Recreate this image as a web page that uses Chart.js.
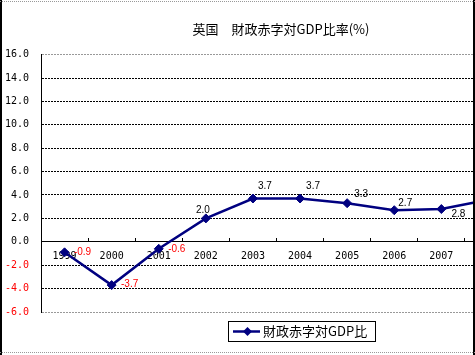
<!DOCTYPE html>
<html>
<head>
<meta charset="utf-8">
<script src="https://cdn.jsdelivr.net/npm/chart.js@4/dist/chart.umd.min.js"></script>
<style>
  html, body { margin: 0; padding: 0; background: #fff; }
  #wrap { position: relative; width: 475px; height: 355px; overflow: hidden; background: #fff; }
  #c { position: absolute; left: 0; top: 0; }
  .fr { position: absolute; pointer-events: none; }
</style>
</head>
<body>
<div id="wrap">
  <canvas id="c" width="562" height="355" style="width:562px;height:355px"></canvas>
  <div class="fr" style="left:0;top:0;width:2px;height:355px;background:#000"></div>
  <div class="fr" style="left:473px;top:0;width:2px;height:355px;background:#000"></div>
  <div class="fr" style="left:0;top:1px;width:475px;height:0;border-top:1px dotted #999"></div>
  <div class="fr" style="left:0;top:352px;width:475px;height:0;border-top:1px dotted #999"></div>
</div>
<script>
// ---- data ----
const categories = ['1999', '2000', '2001', '2002', '2003', '2004', '2005', '2006', '2007', '2008'];
const deficitRatio = [-0.9, -3.7, -0.6, 2.0, 3.7, 3.7, 3.3, 2.7, 2.8, 3.6];
const seriesName = '財政赤字対GDP比';
const chartTitle = '英国　財政赤字対GDP比率(%)';
const yMin = -6, yMax = 16, yStep = 2;

// label placement (offset of label centre from point, px)
const labelOffsets = [[18, 0], [18, -1], [18, 0], [-3, -8], [12, -12], [13, -12], [14, -9], [11, -7], [17, 5], [14, -9]];

const LINE_COLOR = '#000080';

const dataLabelPlugin = {
  id: 'dataLabels',
  afterDatasetsDraw(chart) {
    const ctx = chart.ctx;
    const meta = chart.getDatasetMeta(0);
    const vals = chart.data.datasets[0].data;
    ctx.save();
    ctx.font = '10px "Liberation Sans", Arial, sans-serif';
    ctx.textAlign = 'center';
    ctx.textBaseline = 'middle';
    meta.data.forEach((pt, i) => {
      const v = vals[i];
      if (v == null) return;
      const off = labelOffsets[i] || [0, -10];
      ctx.fillStyle = v < 0 ? '#ff0000' : '#000000';
      ctx.fillText(v.toFixed(1), pt.x + off[0], pt.y + off[1]);
    });
    ctx.restore();
  }
};

const boxLegendPlugin = {
  id: 'boxLegend',
  afterDraw(chart) {
    const ctx = chart.ctx;
    const x = 228, y = 321, w = 147, h = 20;
    ctx.save();
    ctx.strokeStyle = '#000';
    ctx.lineWidth = 1;
    ctx.strokeRect(x + 0.5, y + 0.5, w, h);
    const cy = y + 10.5;
    ctx.strokeStyle = LINE_COLOR;
    ctx.lineWidth = 2.5;
    ctx.beginPath();
    ctx.moveTo(x + 5, cy);
    ctx.lineTo(x + 32, cy);
    ctx.stroke();
    const mx = x + 19.5, r = 4.5;
    ctx.fillStyle = LINE_COLOR;
    ctx.beginPath();
    ctx.moveTo(mx, cy - r); ctx.lineTo(mx + r, cy); ctx.lineTo(mx, cy + r); ctx.lineTo(mx - r, cy);
    ctx.closePath();
    ctx.fill();
    ctx.fillStyle = '#000';
    ctx.font = '13px "Noto Sans CJK JP", sans-serif';
    ctx.textAlign = 'left';
    ctx.textBaseline = 'middle';
    ctx.fillText(chart.data.datasets[0].label, x + 35, cy);
    ctx.restore();
  }
};

const edgeColor = (c) => (c.tick && (c.tick.value === yMax || c.tick.value === yMin)) ? '#999999' : '#000000';

new Chart(document.getElementById('c'), {
  type: 'line',
  data: {
    labels: categories,
    datasets: [{
      label: seriesName,
      data: deficitRatio,
      borderColor: LINE_COLOR,
      backgroundColor: LINE_COLOR,
      borderWidth: 2.5,
      pointStyle: 'rectRot',
      pointRadius: 4.5,
      pointBorderWidth: 1,
      pointBackgroundColor: LINE_COLOR,
      pointBorderColor: LINE_COLOR,
      tension: 0,
      fill: false
    }]
  },
  options: {
    responsive: false,
    animation: false,
    devicePixelRatio: 1,
    layout: { padding: { left: 0, right: 0, top: 0, bottom: 43 } },
    plugins: {
      legend: { display: false },
      tooltip: { enabled: false },
      title: {
        display: true,
        text: chartTitle,
        color: '#000',
        font: { family: '"Noto Sans CJK JP", sans-serif', size: 13, weight: 'normal' },
        padding: { top: 21, bottom: 18 }
      }
    },
    scales: {
      x: {
        type: 'category',
        position: { y: 0 },
        offset: true,
        grid: { display: true, drawOnChartArea: false, drawTicks: true, tickLength: -4, offset: true, tickColor: '#000', color: '#000' },
        border: { display: true, color: '#000', width: 1 },
        ticks: { color: '#000', padding: 13, maxRotation: 0, autoSkip: false, font: { family: '"DejaVu Sans Mono", monospace', size: 10 } },
        afterFit(s) { s.height = 0; }
      },
      y: {
        type: 'linear',
        position: 'left',
        min: yMin,
        max: yMax,
        grid: { color: edgeColor, drawTicks: false, lineWidth: 1 },
        border: { display: true, color: '#000', width: 1, dash: [2, 1] },
        ticks: {
          stepSize: yStep,
          padding: 12,
          color: (c) => (c.tick && c.tick.value < 0) ? '#ff0000' : '#000000',
          font: { family: '"DejaVu Sans Mono", monospace', size: 10 },
          callback: (v) => Number(v).toFixed(1)
        },
        afterFit(s) { s.width = 41; }
      },
      yPad: {
        type: 'linear',
        position: 'right',
        display: true,
        grid: { display: false, drawTicks: false },
        border: { display: false },
        ticks: { display: false },
        afterFit(s) { s.width = 50; }
      }
    }
  },
  plugins: [dataLabelPlugin, boxLegendPlugin]
});
</script>
</body>
</html>
